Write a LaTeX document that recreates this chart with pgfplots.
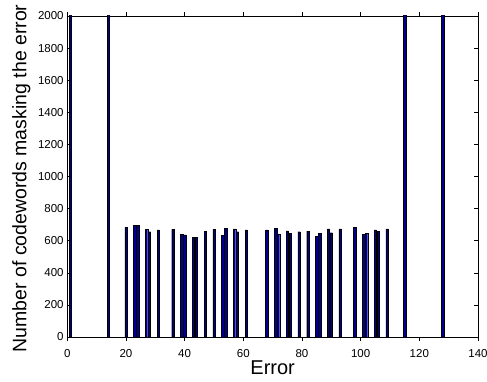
\documentclass[border=0pt]{standalone}
\usepackage{pgfplots}
\pgfplotsset{compat=1.18}
\usepackage{fontspec}
\setmainfont{Liberation Sans}
\definecolor{barblue}{rgb}{0,0,0.5625}
\begin{document}
\begin{tikzpicture}
\begin{axis}[
  scale only axis,
  width=410.7pt, height=321pt,
  xmin=0, xmax=140, ymin=0, ymax=2000,
  xtick={0,20,...,140},
  ytick={0,200,...,2000},
  tick align=inside,
  major tick length=4pt,
  axis line style={line width=0.6pt},
  every tick/.style={black, line width=0.5pt},
  /pgf/number format/assume math mode=true,
  /pgf/number format/1000 sep={},
  ticklabel style={font=\fontsize{11.5}{13}\selectfont},
  xticklabel style={inner sep=0pt, anchor=north, yshift=-8pt},
  yticklabel style={inner sep=0pt, anchor=east, xshift=-3.5pt},
  xlabel={Error},
  ylabel={Number of codewords masking the error},
  xlabel style={font=\fontsize{20}{22}\selectfont, at={(axis description cs:0.5,-0.1153)}, anchor=base, inner sep=0pt},
  ylabel style={font=\fontsize{19.5}{22}\selectfont, at={(axis description cs:-0.0998,0.494)}, rotate=0, anchor=base, inner sep=0pt},
  ybar,
  bar width=0.8,
]
\addplot[fill=barblue, draw=black, line width=0.3pt] coordinates {
(1,2500) (14,2500) (20,683) (23,695) (24,695) (27,671) (28,656) (31,667)
(36,671) (39,640) (40,636) (43,623) (44,623) (47,660) (50,671) (53,633)
(54,677) (57,673) (58,656) (61,667) (68,667) (71,679) (72,640) (75,662)
(76,644) (79,656) (82,660) (85,629) (86,644) (89,673) (90,650) (93,673)
(98,683) (101,638) (102,644) (105,667) (106,660) (109,673) (115,2500) (128,2500)
};
\end{axis}
\pgfresetboundingbox
\path[use as bounding box] ([shift={(-67.3pt,-44pt)}]current axis.south west) rectangle ++(487pt,381pt);
\end{tikzpicture}
\end{document}
